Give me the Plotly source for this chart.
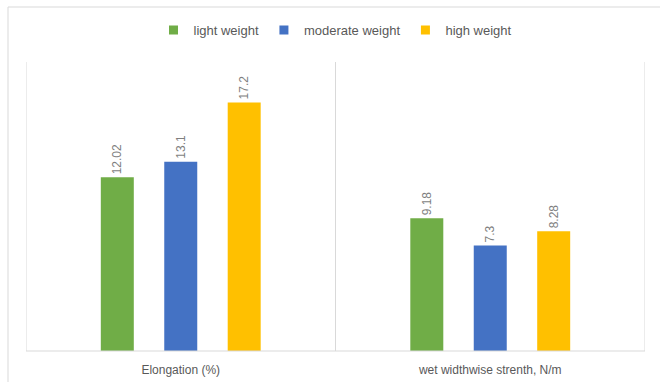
import plotly.graph_objects as go

categories = ["Elongation (%)", "wet widthwise strenth, N/m"]
series_names = ["light weight", "moderate weight", "high weight"]
light_weight = [12.02, 9.18]
moderate_weight = [13.1, 7.3]
high_weight = [17.2, 8.28]
series_colors = ["#70AD47", "#4472C4", "#FFC000"]

W, H = 660, 382
ML, MR, MT, MB = 26, 15, 62, 31
pw, ph = W - ML - MR, H - MT - MB
FONT = "Liberation Sans, Arial, sans-serif"

fig = go.Figure()
for name, vals, col in zip(series_names, [light_weight, moderate_weight, high_weight], series_colors):
    fig.add_trace(go.Bar(
        name=name,
        x=list(range(len(categories))),
        y=vals,
        marker=dict(color=col, line=dict(width=0)),
        text=[f"{v:g}" for v in vals],
        textposition="outside",
        textangle=-90,
        textfont=dict(family=FONT, size=12, color="#7f7f7f"),
        cliponaxis=False,
        showlegend=False,
    ))
    # small square legend key for the series
    fig.add_trace(go.Scatter(
        name=name, x=[None], y=[None], mode="markers",
        marker=dict(symbol="square", size=9, color=col),
        showlegend=True, hoverinfo="skip",
    ))

# category separators and baseline, in light grey
grid = "#d9d9d9"
shapes = []
for i in range(len(categories) + 1):
    shapes.append(dict(type="line", xref="x", yref="paper", x0=i - 0.5, x1=i - 0.5,
                       y0=0, y1=1, line=dict(color=grid, width=1)))
shapes.append(dict(type="line", xref="paper", yref="paper", x0=0, x1=1, y0=0, y1=0,
                   line=dict(color=grid, width=1)))
# outer chart border (top and left edges)
bx = (8 - ML) / pw
by = 1 + (MT - 7) / ph
shapes.append(dict(type="line", xref="paper", yref="paper", x0=bx, x1=1.2, y0=by, y1=by,
                   line=dict(color=grid, width=1)))
shapes.append(dict(type="line", xref="paper", yref="paper", x0=bx, x1=bx, y0=by, y1=-0.3,
                   line=dict(color=grid, width=1)))

fig.update_layout(
    width=W, height=H,
    margin=dict(l=ML, r=MR, t=MT, b=MB, autoexpand=False),
    paper_bgcolor="white", plot_bgcolor="white",
    barmode="group", bargap=0.385, bargroupgap=0.48,
    showlegend=True,
    legend=dict(orientation="h", x=0.5, xanchor="center", y=1 + (MT - 30) / ph, yanchor="middle",
                font=dict(family=FONT, size=13, color="#595959"),
                itemwidth=30, traceorder="normal"),
    xaxis=dict(range=[-0.5, len(categories) - 0.5], tickvals=list(range(len(categories))),
               ticktext=categories, showgrid=False, zeroline=False, showline=False, ticks="",
               ticklabelstandoff=10, automargin=False,
               tickfont=dict(family=FONT, size=12, color="#595959")),
    yaxis=dict(range=[0, 20], visible=False, showgrid=False, zeroline=False, automargin=False),
    shapes=shapes,
)

fig.write_html("out.html")
